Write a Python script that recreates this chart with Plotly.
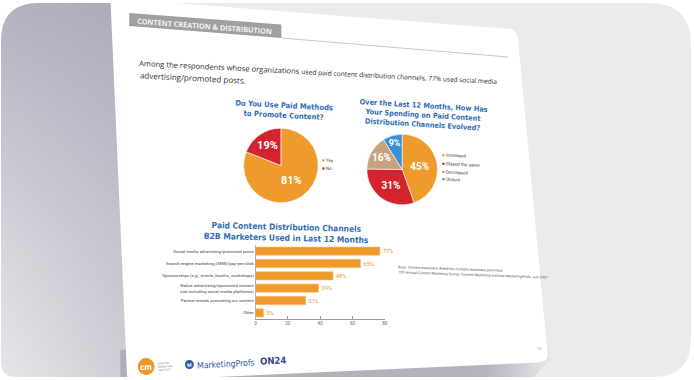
import numpy as np
import plotly.graph_objects as go

W, H = 694, 380

# ---------------- data ----------------
pie1_title = "Do You Use Paid Methods<br>to Promote Content?"
pie1_labels = ["Yes", "No"]
pie1_values = [81, 19]
pie1_colors = ["#ef9a2c", "#d2232e"]

pie2_title = "Over the Last 12 Months, How Has<br>Your Spending on Paid Content<br>Distribution Channels Evolved?"
pie2_labels = ["Increased", "Stayed the same", "Decreased", "Unsure"]
pie2_values = [45, 31, 16, 9]
pie2_colors = ["#ef9a2c", "#d2232e", "#c9a27c", "#3d8fd6"]

bar_title = "Paid Content Distribution Channels<br>B2B Marketers Used in Last 12 Months"
bar_categories = [
    "Social media advertising/promoted posts",
    "Search engine marketing (SEM)/pay-per-click",
    "Sponsorships (e.g., events, booths, workshops)",
    "Native advertising/sponsored content<br>(not including social media platforms)",
    "Partner emails promoting our content",
    "Other",
]
bar_values = [77, 65, 48, 39, 31, 5]
bar_ticks = [0, 20, 40, 60, 80]

header_text = "CONTENT CREATION &amp; DISTRIBUTION"
body_line1_parts = ["Among the respondents whose organizations",
                    "used paid content distribution channels,",
                    "77% used social media"]
body_line2 = "advertising/promoted posts."
source_line1 = "Base: Content marketers; Aided list; multiple responses permitted."
source_line2 = "12th Annual Content Marketing Survey: Content Marketing Institute/MarketingProfs, July 2021"

ORANGE = "#ef9a2c"
BLUE = "#2f6db6"
NARROW = "Liberation Sans Narrow, DejaVu Sans Condensed, Roboto, sans-serif"


# ---------------- helpers ----------------
def px(x):
    return x / W


def py(y):
    return 1 - y / H


def rpoly(pts, radii, n=10):
    xs, ys = [], []
    N = len(pts)
    for i in range(N):
        p = np.array(pts[i], float)
        r = radii[i]
        if r == 0:
            xs.append(p[0]); ys.append(p[1]); continue
        a = np.array(pts[i - 1], float)
        b = np.array(pts[(i + 1) % N], float)
        da = (a - p) / np.linalg.norm(a - p)
        db = (b - p) / np.linalg.norm(b - p)
        p1 = p + da * r
        p2 = p + db * r
        for t in np.linspace(0, 1, n):
            q = (1 - t) ** 2 * p1 + 2 * t * (1 - t) * p + t ** 2 * p2
            xs.append(q[0]); ys.append(q[1])
    xs.append(xs[0]); ys.append(ys[0])
    return xs, ys


def slide_left_x(y):
    return 110 + (y - 2) * (17 / 376)


fig = go.Figure()


def bgpoly(xs, ys, color=None, grad=None):
    kw = dict(x=xs, y=ys, mode="lines", fill="toself", line=dict(width=0),
              hoverinfo="skip", showlegend=False, xaxis="x", yaxis="y")
    if grad is not None:
        kw["fillgradient"] = grad
    else:
        kw["fillcolor"] = color
    fig.add_trace(go.Scatter(**kw))


# outer rounded background
xs, ys = rpoly([(0, 3), (694, 3), (694, 377), (0, 377)], [38, 42, 38, 15])
bgpoly(xs, ys, "#ebebeb")

# left shadow gradient
xs, ys = rpoly([(0, 3), (slide_left_x(3) + 2, 3), (slide_left_x(377) + 2, 377), (0, 377)], [38, 0, 0, 15])
bgpoly(xs, ys, grad=dict(type="vertical",
                         colorscale=[[0, "rgba(230,230,233,1)"], [0.35, "rgba(215,214,221,1)"], [1, "rgba(178,177,192,1)"]]))
bgpoly(xs, ys, grad=dict(type="horizontal",
                         colorscale=[[0, "rgba(160,159,178,0)"], [1, "rgba(160,159,178,0.35)"]]))

# bottom shadow
bgpoly([120, 552, 552, 536, 120], [350, 350, 360, 377, 377],
       grad=dict(type="horizontal",
                 colorscale=[[0, "#aeadbc"], [0.85, "#b4b3c1"], [0.97, "#dcdce2"], [1, "#e6e6e9"]]))

# slide (white page)
xs, ys = rpoly([(110, -2), (519, 29), (551, 362), (127, 381)], [0, 11, 10, 0])
bgpoly(xs, ys, "#ffffff")

# header tag
bgpoly([129, 282, 282, 129, 129], [13, 24.5, 38, 26, 13], "#a0a0a0")
# rule line
fig.add_trace(go.Scatter(x=[282, 510], y=[38, 57], mode="lines", line=dict(color="#c9c9c9", width=1),
                         hoverinfo="skip", showlegend=False, xaxis="x", yaxis="y"))

# ---------------- pies ----------------
fig.add_trace(go.Pie(
    labels=pie1_labels, values=pie1_values, sort=False, direction="clockwise", rotation=0,
    marker=dict(colors=pie1_colors, line=dict(color="#ffffff", width=0.6)),
    text=[f"{v}%" for v in pie1_values], textinfo="text", textposition="inside",
    insidetextorientation="horizontal",
    insidetextfont=dict(color="white", size=11, family="Roboto", weight="bold"),
    domain=dict(x=[px(244), px(319)], y=[py(203), py(128)]),
    showlegend=False, hoverinfo="label+value",
))
fig.add_trace(go.Pie(
    labels=pie2_labels, values=pie2_values, sort=False, direction="clockwise", rotation=0,
    marker=dict(colors=pie2_colors, line=dict(color="#ffffff", width=0.6)),
    text=[f"{v}%" for v in pie2_values], textinfo="text", textposition="inside",
    insidetextorientation="horizontal",
    insidetextfont=dict(color="white", size=10, family="Roboto", weight="bold"),
    domain=dict(x=[px(368), px(439)], y=[py(205), py(134)]),
    showlegend=False, hoverinfo="label+value",
))

# ---------------- bar chart ----------------
fig.add_trace(go.Bar(
    y=bar_categories, x=bar_values, orientation="h",
    marker=dict(color=ORANGE, line=dict(color="#f6c27e", width=0.6)),
    text=[f"{v}%" for v in bar_values], textposition="outside", cliponaxis=False,
    textfont=dict(color="#e8962c", size=5.5, family="Roboto"),
    xaxis="x2", yaxis="y2", showlegend=False, width=0.68,
))

annotations = []


def ann(x, y, text, size, color="#333", angle=0, family="Open Sans", bold=False, xanchor="center", align="center"):
    annotations.append(dict(
        x=px(x), y=py(y), xref="paper", yref="paper", text=text, showarrow=False,
        textangle=angle, xanchor=xanchor, yanchor="middle", align=align,
        font=dict(size=size, color=color, family=family, weight="bold" if bold else "normal"),
    ))


ann(205, 25.5, header_text, 7.3, "#f2f2f2", 4.4, "Open Sans", True)

# body text: one line with shrinking font sizes to mimic perspective
seg_size = [7.6, 6.7, 6.5]
line1 = " ".join(f"<span style='font-size:{s}px'>{t}</span>" for t, s in zip(body_line1_parts, seg_size))
ann(137, 72.0, line1, 7.6, "#2a2a2a", 2.9, "Open Sans", xanchor="left", align="left")
ann(137, 77.6, body_line2, 8.0, "#2a2a2a", 2.9, "Open Sans", xanchor="left", align="left")

ann(285, 110, pie1_title, 7.6, BLUE, 3.0, NARROW, True)
ann(424, 115, pie2_title, 7.3, BLUE, 3.5, NARROW, True)
ann(287, 232.5, bar_title, 8.4, BLUE, 1.5, NARROW, True)

# legends
for i, (lab, col) in enumerate(zip(pie1_labels, pie1_colors)):
    ann(321, 160 + 8 * i, f"<span style='color:{col}'>■</span> {lab}", 4.6, "#444", 3, "Roboto", xanchor="left", align="left")
for i, (lab, col) in enumerate(zip(pie2_labels, pie2_colors)):
    ann(441, 156 + 8 * i, f"<span style='color:{col}'>■</span> {lab}", 4.6, "#444", 3, "Roboto", xanchor="left", align="left")

# source
ann(397, 269, source_line1, 3.6, "#555", 2, "Roboto", xanchor="left", align="left")
ann(397, 274.5, source_line2, 3.6, "#555", 2, "Roboto", xanchor="left", align="left")

# page number
ann(542, 348, "23", 4, "#999", 0, "Roboto")

# logos
ann(146, 366.5, "cm", 8.5, "#ffffff", -3, "Roboto", True)
ann(156, 366, "CONTENT<br>MARKETING<br>INSTITUTE", 2.6, "#777", -3, "Roboto", xanchor="left", align="left")
ann(189.5, 364.5, "M", 5, "#ffffff", -3, "Roboto", True)
ann(195, 363.5, "MarketingProfs", 8.6, "#2a5ea8", -3, NARROW, xanchor="left", align="left")
ann(274, 360, "ON24", 9.5, "#39458a", -3, NARROW, True)

shapes = [
    dict(type="circle", xref="paper", yref="paper", x0=px(137.5), x1=px(154.5), y0=py(375), y1=py(358),
         fillcolor="#f0972a", line=dict(width=0), layer="above"),
    dict(type="circle", xref="paper", yref="paper", x0=px(185), x1=px(194), y0=py(369), y1=py(360),
         fillcolor="#2a5ea8", line=dict(width=0), layer="above"),
]

fig.update_layout(
    width=W, height=H, margin=dict(l=0, r=0, t=0, b=0),
    paper_bgcolor="#ffffff", plot_bgcolor="rgba(0,0,0,0)",
    xaxis=dict(domain=[0, 1], range=[0, W], visible=False, fixedrange=True),
    yaxis=dict(domain=[0, 1], range=[H, 0], visible=False, fixedrange=True),
    xaxis2=dict(domain=[px(256), px(386)], range=[0, 80], tickvals=bar_ticks, ticktext=[str(t) for t in bar_ticks],
                anchor="y2", showgrid=False, zeroline=False, showline=True, linecolor="#9a9a9a", linewidth=0.8,
                ticks="inside", ticklen=3, tickcolor="#9a9a9a", tickfont=dict(size=4.5, color="#666", family="Roboto")),
    yaxis2=dict(domain=[py(319), py(245)], anchor="x2", autorange="reversed", showgrid=False, zeroline=False,
                showline=True, linecolor="#b0b0b0", linewidth=0.6, ticks="",
                tickfont=dict(size=4.4, color="#444", family="Roboto")),
    annotations=annotations, shapes=shapes,
    font=dict(family="Open Sans"),
)

fig.write_html("out.html", config={"displayModeBar": False},
               post_script="document.body.style.margin='0';document.body.style.overflow='hidden';")
